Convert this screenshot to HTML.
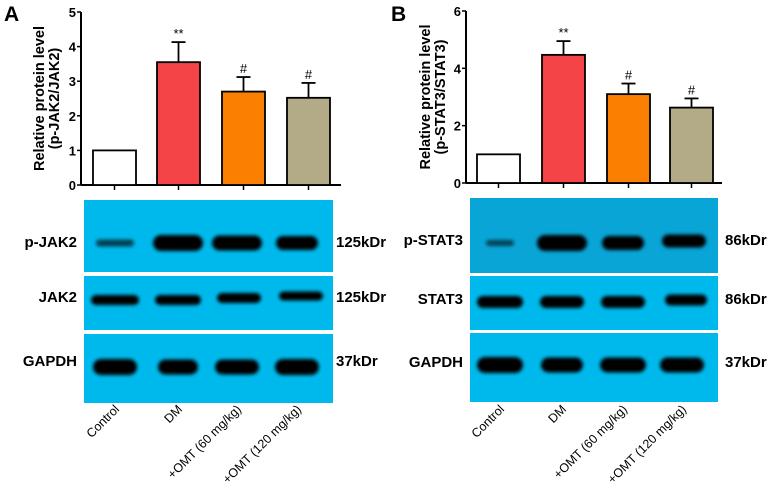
<!DOCTYPE html>
<html><head><meta charset="utf-8"><style>
body{margin:0;background:#fff;}
svg{display:block;font-family:"Liberation Sans",Arial,sans-serif;}
</style></head><body>
<svg id="fig" width="777" height="490" viewBox="0 0 777 490">
<defs>
<filter id="blur" x="-30%" y="-100%" width="160%" height="300%"><feGaussianBlur stdDeviation="1.8"/></filter>
</defs>
<text x="4" y="21" font-size="21" font-weight="bold">A</text>
<text x="391" y="21" font-size="21" font-weight="bold">B</text>
<g id="chartA"></g>
<g id="chartB"></g>
<g id="blots"></g>
</svg>
<script>
const categories = ["Control","DM","+OMT (60 mg/kg)","+OMT (120 mg/kg)"];
const valuesA = [1, 3.55, 2.7, 2.52];
const errorsA = [0, 0.58, 0.42, 0.43];
const marksA = ["", "**", "#", "#"];
const ticksA = [0,1,2,3,4,5];
const valuesB = [1, 4.47, 3.1, 2.63];
const errorsB = [0, 0.48, 0.37, 0.32];
const marksB = ["", "**", "#", "#"];
const ticksB = [0,2,4,6];
const colors = ["#ffffff","#f44448","#fb7f00","#b3ab88"];
const NS="http://www.w3.org/2000/svg";
function mk(parent,tag,attrs,text){const e=document.createElementNS(NS,tag);for(const k in attrs)e.setAttribute(k,attrs[k]);if(text!==undefined)e.textContent=text;parent.appendChild(e);return e;}

function chart(g, cfg){
  const {x0,x1,y0,y1,max,values,errors,marks,ticks,barX,barW,title1,title2,tx} = cfg;
  const y = v => y0 - (v/max)*(y0-y1);
  let ax = mk(g,'line',{x1:x0,y1:y1,x2:x0,y2:y0,stroke:'#000','stroke-width':2});
  
  
  let xa = mk(g,'line',{x1:x0,y1:y0,x2:x1,y2:y0,stroke:'#000','stroke-width':2});
  
  
  ticks.forEach(t=>{
    mk(g,'line',{x1:x0-4,y1:y(t),x2:x0,y2:y(t),stroke:'#000','stroke-width':1.5});
    let tl = mk(g,'text',{x:x0-5,y:y(t)+5,'font-size':13,'font-weight':'bold','text-anchor':'end'},String(t));
    
    
  });
  values.forEach((v,i)=>{
    const bx = barX[i], cx = bx+barW/2;
    mk(g,'line',{x1:cx,y1:y0,x2:cx,y2:y0+5,stroke:'#000','stroke-width':1.5});
    if(errors[i]>0){
      mk(g,'line',{x1:cx,y1:y(v),x2:cx,y2:y(v+errors[i]),stroke:'#000','stroke-width':1.8});
      mk(g,'line',{x1:cx-7,y1:y(v+errors[i]),x2:cx+7,y2:y(v+errors[i]),stroke:'#000','stroke-width':1.8});
    }
    let r = mk(g,'rect',{x:bx,y:y(v),width:barW,height:y0-y(v),fill:colors[i],stroke:'#000','stroke-width':1.8});
    
    
    if(marks[i]){
      let m = mk(g,'text',{x:cx,y:y(v+errors[i])-4,'font-size':13,'text-anchor':'middle'},marks[i]);
      
      
    }
  });
  const my=(y0+y1)/2;
  let t1 = mk(g,'text',{transform:`translate(${tx},${my}) rotate(-90)`,'font-size':14.5,'font-weight':'bold','text-anchor':'middle'},title1);
  
  
  let t2 = mk(g,'text',{transform:`translate(${tx+15},${my}) rotate(-90)`,'font-size':14.5,'font-weight':'bold','text-anchor':'middle'},title2);
  
  
}
chart(document.getElementById('chartA'),{x0:81,x1:341,y0:185,y1:12,max:5,values:valuesA,errors:errorsA,marks:marksA,ticks:ticksA,barX:[93,157,222,287],barW:43,title1:'Relative protein level',title2:'(p-JAK2/JAK2)',tx:44});
chart(document.getElementById('chartB'),{x0:466,x1:722,y0:183,y1:11,max:6,values:valuesB,errors:errorsB,marks:marksB,ticks:ticksB,barX:[477,542,607,670],barW:43,title1:'Relative protein level',title2:'(p-STAT3/STAT3)',tx:430});

const B = document.getElementById('blots');
function blot(px,pw,rows,lanes,labels,kd,kdx){
  rows.forEach((r,ri)=>{
    let p = mk(B,'rect',{x:px,y:r.y,width:pw,height:r.h,fill:r.c});
    
    
    r.bands.forEach((b,li)=>{
      if(b[0]<=0) return;
      mk(B,'rect',{x:lanes[li]+(b[2]||0)-b[1],y:r.y+r.by+(b[3]||0)-b[0],width:2*b[1],height:2*b[0],rx:b[0],fill:'#050505',opacity:b[4]||1,filter:'url(#blur)'});
    });
    let l = mk(B,'text',{x:px-7,y:r.y+r.ly,'font-size':15,'font-weight':'bold','text-anchor':'end'},labels[ri]);
    
    
    let k = mk(B,'text',{x:kdx,y:r.y+r.ly,'font-size':15,'font-weight':'bold'},kd[ri]);
    
    
  });
  lanes.forEach((lx,i)=>{
    let t = mk(B,'text',{transform:`translate(${lx+5},${410}) rotate(-45)`,'font-size':12.5,'text-anchor':'end'},categories[i]);
    
    
  });
}
blot(84,249,[
  {y:200,h:72,c:'#00b9ec',by:43,ly:47,bands:[[3.5,19,0,0,0.65],[8,25],[7.5,25],[7,21]]},
  {y:276,h:54,c:'#00b9ec',by:24,ly:26,bands:[[5,24],[5,23],[5,22,2,-2],[4.5,22,4,-4]]},
  {y:334,h:69,c:'#00b9ec',by:33,ly:32,bands:[[8,22],[7.5,20],[7.5,22],[8,22]]}
],[115,178,237,297],['p-JAK2','JAK2','GAPDH'],['125kDr','125kDr','37kDr'],336);
blot(470,248,[
  {y:198,h:75,c:'#09a5d6',by:45,ly:47,bands:[[3,14,0,0,0.6],[8,25],[7,21],[6.5,22,2,-2]]},
  {y:276,h:54,c:'#00b9ec',by:26,ly:28,bands:[[6,23],[6,22],[6,22],[5.5,21,4,-2]]},
  {y:333,h:69,c:'#00b9ec',by:32,ly:34,bands:[[8,23],[7.5,21],[7.5,23],[7.5,22]]}
],[500,562,623,682],['p-STAT3','STAT3','GAPDH'],['86kDr','86kDr','37kDr'],725);
</script>
</body></html>
